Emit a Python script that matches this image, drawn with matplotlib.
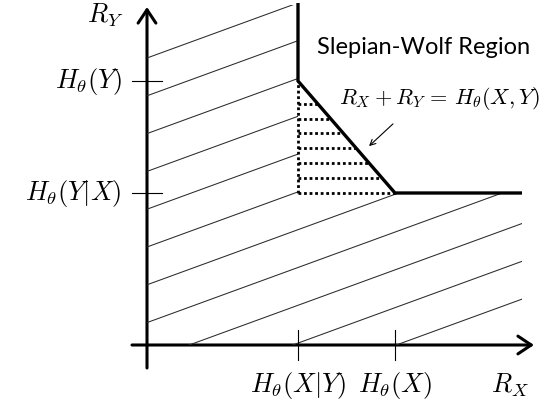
import numpy as np
import matplotlib.pyplot as plt
from matplotlib.patches import Polygon, FancyArrowPatch

plt.rcParams['mathtext.fontset'] = 'cm'

# 軸上の目盛り（エントロピー値、図から読み取り）
x_ticks = [1.51, 2.48]            # H(X|Y), H(X)
x_tick_labels = [r'$H_\theta(X|Y)$', r'$H_\theta(X)$']
y_ticks = [1.52, 2.64]            # H(Y|X), H(Y)
y_tick_labels = [r'$H_\theta(Y|X)$', r'$H_\theta(Y)$']

x_max, y_max = 3.75, 3.40        # 領域の描画範囲

hx_y, hx = x_ticks
hy_x, hy = y_ticks

fig = plt.figure(figsize=(5.54, 4.11), dpi=100)
ax = fig.add_axes([0, 0, 1, 1])
ax.set_xlim(-1.47, 4.07)
ax.set_ylim(-0.66, 3.45)
ax.axis('off')

# 斜線部分（達成不可能な領域）
region = Polygon([(0, 0), (x_max, 0), (x_max, hy_x), (hx_y, hy_x),
                  (hx_y, y_max), (0, y_max)], closed=True,
                 facecolor='none', edgecolor='none')
ax.add_patch(region)
slope = 0.365
xs = np.array([0, x_max])
for b in 2.87 - 0.378 * np.arange(11):
    ln, = ax.plot(xs, b + slope * xs, color='#2a2a2a', lw=0.75)
    ln.set_clip_path(region)

# 三角形の点線
def diag_x(y):
    return hx_y + (hy - y) / (hy - hy_x) * (hx - hx_y)

ax.plot([hx_y, hx_y], [hy_x, hy], color='black', lw=2, ls=(0, (1, 1)))
for y in hy_x + 0.149 * np.arange(7):
    ax.plot([hx_y, diag_x(y)], [y, y], color='black', lw=2, ls=(0, (1, 1)))

# 境界線（太線）
ax.plot([hx_y, hx_y, hx, x_max], [y_max + 0.02, hy, hy_x, hy_x],
        color='black', lw=2.4, solid_capstyle='butt', solid_joinstyle='miter')

# 軸
ax.add_patch(FancyArrowPatch((0, -0.23), (0, 3.38), arrowstyle='->,head_length=6,head_width=4',
                             lw=2.2, color='black', mutation_scale=1.6, shrinkA=0, shrinkB=0))
ax.add_patch(FancyArrowPatch((-0.15, 0), (3.87, 0), arrowstyle='->,head_length=6,head_width=4',
                             lw=2.2, color='black', mutation_scale=1.6, shrinkA=0, shrinkB=0))

# 目盛り
for xv, lab in zip(x_ticks, x_tick_labels):
    ax.plot([xv, xv], [-0.15, 0.15], color='black', lw=0.8)
    ax.text(xv, -0.40, lab, ha='center', va='center', fontsize=19)
for yv, lab in zip(y_ticks, y_tick_labels):
    ax.plot([-0.15, 0.15], [yv, yv], color='black', lw=0.8)
    ax.text(-0.25, yv, lab, ha='right', va='center', fontsize=19)

ax.text(-0.42, 3.30, r'$R_Y$', ha='center', va='center', fontsize=19)
ax.text(3.63, -0.40, r'$R_X$', ha='center', va='center', fontsize=19)

ax.text(2.77, 2.98, 'Slepian-Wolf Region', ha='center', va='center',
        fontsize=17, family='Lato')
ax.text(2.92, 2.47, r'$R_X + R_Y \,=\, H_\theta(X,Y)$', ha='center', va='center', fontsize=16)
ax.annotate('', xy=(2.20, 1.97), xytext=(2.48, 2.23),
            arrowprops=dict(arrowstyle='->', lw=0.8, color='black'))

plt.savefig('out.png', dpi=100)
